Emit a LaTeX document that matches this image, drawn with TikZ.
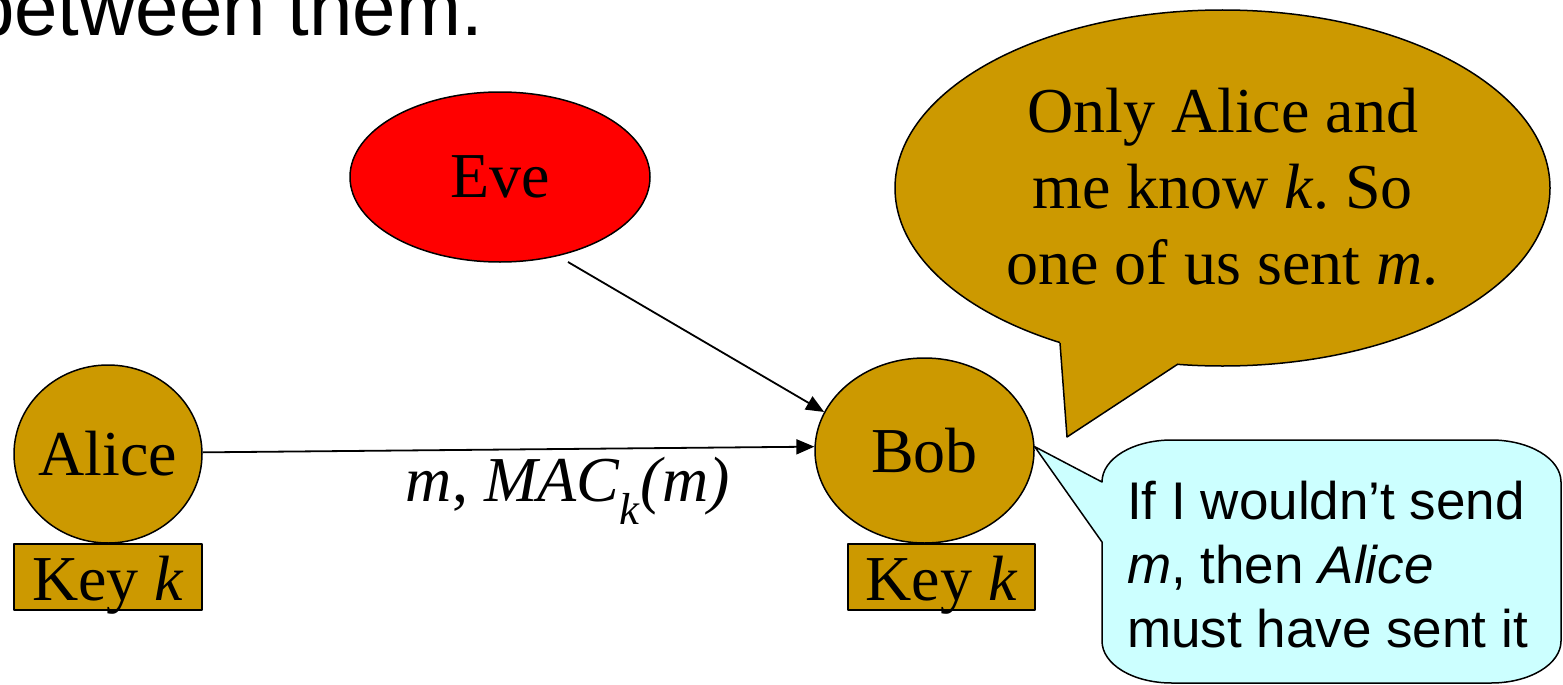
\documentclass[tikz,border=0pt]{standalone}
\usepackage{fontspec}
\setmainfont{Liberation Serif}
\newfontfamily\sansfont{Liberation Sans}
\usetikzlibrary{shapes.geometric,arrows.meta}
\definecolor{gold}{HTML}{CC9900}
\definecolor{callcyan}{HTML}{CCFFFF}
\frenchspacing
\begin{document}
\begin{tikzpicture}[x=1pt,y=-1pt,line join=round,
  bigserif/.style={font=\fontsize{64}{76}\selectfont},
  party/.style={ellipse,draw=black,fill=gold,line width=1.5pt,inner sep=0pt,bigserif},
  keybox/.style={rectangle,draw=black,fill=gold,line width=1.5pt,minimum width=188pt,
    minimum height=66pt,inner sep=0pt,text height=46pt,text depth=0pt,bigserif},
  msg/.style={line width=1.8pt,-{Triangle[length=18pt,width=15pt]}},
  bubble/.style={line width=1.5pt,draw=black}]

\useasboundingbox (0,0) rectangle (1563,685);

% running text of the slide, cut at the top edge
\node[anchor=base west,inner sep=0pt,font=\sansfont\fontsize{78}{90}\selectfont] (heading)
  at (-29,36) {between them.};

% the three parties
\node[party,fill=red,minimum width=300pt,minimum height=170pt] (eve) at (500,177) {Eve};
\node[party,minimum width=188pt,minimum height=178pt] (alice) at (108,454) {\makebox[0pt]{Alice}};
\node[party,minimum width=219pt,minimum height=185pt] (bob) at (924.5,450.5) {Bob};

% shared keys
\node[keybox] (alicekey) at (108,577) {Key \textit{k}};
\node[keybox,minimum width=187pt] (bobkey) at (941.5,577) {Key \textit{k}};

% messages
\coordinate (evefoot) at (568,262);
\draw[msg] (evefoot) -- (bob.159);
\draw[msg] (alice.1) -- node[pos=0.597,anchor=base,yshift=-53pt,inner sep=0pt,bigserif] (maclabel)
  {\textit{m}, \textit{MAC}\textsubscript{\textit{k}}\textit{(m)}} (bob.178.6);

% Bob's speech bubble
\draw[bubble,fill=gold] (1222.5,188) ellipse [x radius=327.5,y radius=178];
\fill[gold] (1060,343) -- (1067,437) -- (1178,364) -- (1178,335) -- (1060,320) -- cycle;
\draw[bubble] (1060,343) -- (1067,437) -- (1178,364);
\node[align=center,inner sep=0pt,bigserif] (thought) at (1222.5,187)
  {Only Alice and\\ me know \textit{k}. So\\ one of us sent \textit{m}.};

% Bob's reasoning callout
\draw[bubble,fill=callcyan] (1102,482) -- (bob.2) -- (1102,542) -- (1102,641)
  .. controls (1102,664.2) and (1132.6,683) .. (1172,683) -- (1491,683)
  .. controls (1529.7,683) and (1561,664.2) .. (1561,641) -- (1561,482)
  .. controls (1561,458.8) and (1529.7,440) .. (1491,440) -- (1172,440)
  .. controls (1132.6,440) and (1102,458.8) .. (1102,482) -- cycle;
\node[align=left,anchor=north west,inner sep=0pt,font=\sansfont\fontsize{53}{64}\selectfont] (reason)
  at (1127,481) {If I wouldn’t send\\ \textit{m}, then \textit{Alice}\\ must have sent it};
\end{tikzpicture}
\end{document}
